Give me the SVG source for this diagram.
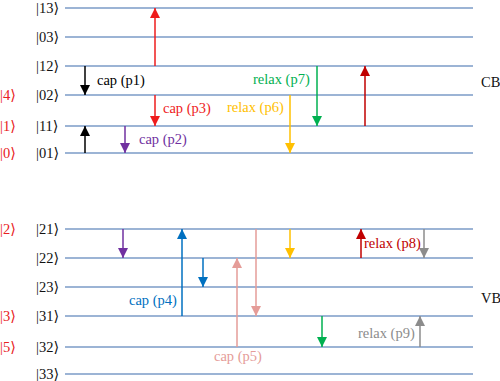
<svg xmlns="http://www.w3.org/2000/svg" width="500" height="381" viewBox="0 0 500 381">
<style>
.lv{stroke:#7b9bc7;stroke-width:1.5}
.ar{stroke-width:1.5;fill:none}
.ket{fill:#111}
.rk{fill:#e82020}
</style>
<defs>
<marker id="m-black" markerUnits="userSpaceOnUse" markerWidth="12" markerHeight="12" refX="10" refY="5" orient="auto"><path d="M0,0L10,5L0,10z" fill="#000"/></marker>
<marker id="m-red" markerUnits="userSpaceOnUse" markerWidth="12" markerHeight="12" refX="10" refY="5" orient="auto"><path d="M0,0L10,5L0,10z" fill="#ee1c1c"/></marker>
<marker id="m-purple" markerUnits="userSpaceOnUse" markerWidth="12" markerHeight="12" refX="10" refY="5" orient="auto"><path d="M0,0L10,5L0,10z" fill="#7030a0"/></marker>
<marker id="m-yellow" markerUnits="userSpaceOnUse" markerWidth="12" markerHeight="12" refX="10" refY="5" orient="auto"><path d="M0,0L10,5L0,10z" fill="#ffc000"/></marker>
<marker id="m-green" markerUnits="userSpaceOnUse" markerWidth="12" markerHeight="12" refX="10" refY="5" orient="auto"><path d="M0,0L10,5L0,10z" fill="#00b050"/></marker>
<marker id="m-dred" markerUnits="userSpaceOnUse" markerWidth="12" markerHeight="12" refX="10" refY="5" orient="auto"><path d="M0,0L10,5L0,10z" fill="#c00000"/></marker>
<marker id="m-blue" markerUnits="userSpaceOnUse" markerWidth="12" markerHeight="12" refX="10" refY="5" orient="auto"><path d="M0,0L10,5L0,10z" fill="#0070c0"/></marker>
<marker id="m-pink" markerUnits="userSpaceOnUse" markerWidth="12" markerHeight="12" refX="10" refY="5" orient="auto"><path d="M0,0L10,5L0,10z" fill="#e59c98"/></marker>
<marker id="m-gray" markerUnits="userSpaceOnUse" markerWidth="12" markerHeight="12" refX="10" refY="5" orient="auto"><path d="M0,0L10,5L0,10z" fill="#8c8c8c"/></marker>
</defs>
<rect width="500" height="381" fill="#fff"/>
<g id="levels" font-family="'Liberation Serif', 'DejaVu Serif', serif" font-size="14.5">
<g id="l13"><line class="lv" x1="65" y1="8" x2="473" y2="8"/><text class="ket" x="36" y="13">|13⟩</text></g>
<g id="l03"><line class="lv" x1="65" y1="37" x2="473" y2="37"/><text class="ket" x="36" y="42">|03⟩</text></g>
<g id="l12"><line class="lv" x1="65" y1="66" x2="473" y2="66"/><text class="ket" x="36" y="71">|12⟩</text></g>
<g id="l02"><line class="lv" x1="65" y1="95" x2="473" y2="95"/><text class="ket" x="36" y="100">|02⟩</text><text class="rk" x="0" y="100">|4⟩</text></g>
<g id="l11"><line class="lv" x1="65" y1="126" x2="473" y2="126"/><text class="ket" x="36" y="131">|11⟩</text><text class="rk" x="0" y="131">|1⟩</text></g>
<g id="l01"><line class="lv" x1="65" y1="153" x2="473" y2="153"/><text class="ket" x="36" y="158">|01⟩</text><text class="rk" x="0" y="158">|0⟩</text></g>
<g id="l21"><line class="lv" x1="65" y1="229" x2="473" y2="229"/><text class="ket" x="36" y="234">|21⟩</text><text class="rk" x="0" y="234">|2⟩</text></g>
<g id="l22"><line class="lv" x1="65" y1="258" x2="473" y2="258"/><text class="ket" x="36" y="263">|22⟩</text></g>
<g id="l23"><line class="lv" x1="65" y1="287" x2="473" y2="287"/><text class="ket" x="36" y="292">|23⟩</text></g>
<g id="l31"><line class="lv" x1="65" y1="316" x2="473" y2="316"/><text class="ket" x="36" y="321">|31⟩</text><text class="rk" x="0" y="321">|3⟩</text></g>
<g id="l32"><line class="lv" x1="65" y1="347" x2="473" y2="347"/><text class="ket" x="36" y="352">|32⟩</text><text class="rk" x="0" y="352">|5⟩</text></g>
<g id="l33"><line class="lv" x1="65" y1="374" x2="473" y2="374"/><text class="ket" x="36" y="379">|33⟩</text></g>
<g id="cb"><text class="ket" x="481" y="87">CB</text></g>
<g id="vb"><text class="ket" x="481" y="303">VB</text></g>
</g>
<g id="connectors">
<line class="ar" stroke="#000" x1="85" y1="66" x2="85" y2="95" marker-end="url(#m-black)"/>
<line class="ar" stroke="#000" x1="85" y1="153" x2="85" y2="126" marker-end="url(#m-black)"/>
<line class="ar" stroke="#ee1c1c" x1="155" y1="66" x2="155" y2="8" marker-end="url(#m-red)"/>
<line class="ar" stroke="#ee1c1c" x1="155" y1="95" x2="155" y2="126" marker-end="url(#m-red)"/>
<line class="ar" stroke="#7030a0" x1="125" y1="126" x2="125" y2="153" marker-end="url(#m-purple)"/>
<line class="ar" stroke="#ffc000" x1="290" y1="95" x2="290" y2="153" marker-end="url(#m-yellow)"/>
<line class="ar" stroke="#00b050" x1="317" y1="66" x2="317" y2="126" marker-end="url(#m-green)"/>
<line class="ar" stroke="#c00000" x1="365" y1="126" x2="365" y2="66" marker-end="url(#m-dred)"/>
<line class="ar" stroke="#7030a0" x1="123" y1="229" x2="123" y2="258" marker-end="url(#m-purple)"/>
<line class="ar" stroke="#0070c0" x1="182" y1="316" x2="182" y2="229" marker-end="url(#m-blue)"/>
<line class="ar" stroke="#0070c0" x1="203" y1="258" x2="203" y2="287" marker-end="url(#m-blue)"/>
<line class="ar" stroke="#e59c98" x1="237" y1="347" x2="237" y2="258" marker-end="url(#m-pink)"/>
<line class="ar" stroke="#e59c98" x1="256" y1="229" x2="256" y2="316" marker-end="url(#m-pink)"/>
<line class="ar" stroke="#ffc000" x1="290" y1="229" x2="290" y2="258" marker-end="url(#m-yellow)"/>
<line class="ar" stroke="#c00000" x1="361" y1="258" x2="361" y2="229" marker-end="url(#m-dred)"/>
<line class="ar" stroke="#8c8c8c" x1="424" y1="229" x2="424" y2="258" marker-end="url(#m-gray)"/>
<line class="ar" stroke="#00b050" x1="322" y1="316" x2="322" y2="347" marker-end="url(#m-green)"/>
<line class="ar" stroke="#8c8c8c" x1="420" y1="347" x2="420" y2="316" marker-end="url(#m-gray)"/>
</g>
<g id="labels" font-family="'Liberation Serif', 'DejaVu Serif', serif" font-size="14.5">
<text x="97" y="85" fill="#000">cap (p1)</text>
<text x="163" y="113" fill="#ee1c1c">cap (p3)</text>
<text x="139" y="144" fill="#7030a0">cap (p2)</text>
<text x="227" y="112" fill="#ffc000">relax (p6)</text>
<text x="253" y="84" fill="#00b050">relax (p7)</text>
<text x="129" y="305" fill="#0070c0">cap (p4)</text>
<text x="214" y="361" fill="#e59c98">cap (p5)</text>
<text x="364" y="248" fill="#c00000">relax (p8)</text>
<text x="358" y="338" fill="#8c8c8c">relax (p9)</text>
</g>
</svg>
